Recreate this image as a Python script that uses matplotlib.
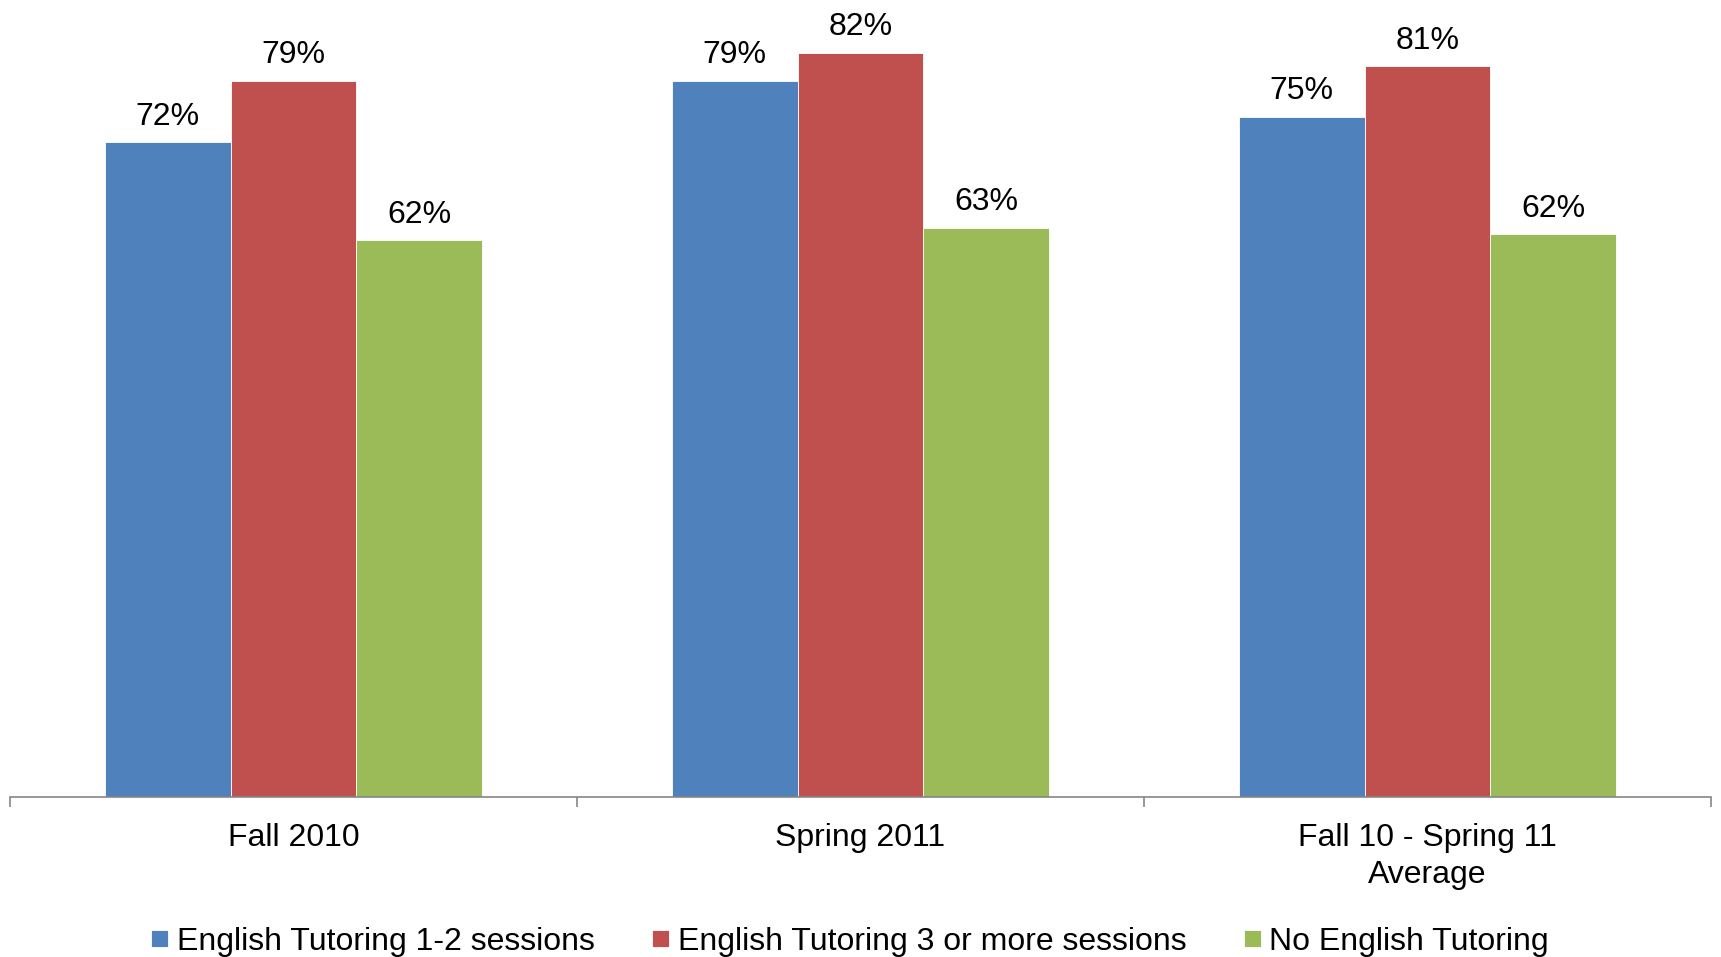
import matplotlib.pyplot as plt
import numpy as np

plt.rcParams['font.family'] = ['Liberation Sans', 'DejaVu Sans']

categories = ['Fall 2010', 'Spring 2011', 'Fall 10 - Spring 11\nAverage']
series_names = ['English Tutoring 1-2 sessions',
                'English Tutoring 3 or more sessions',
                'No English Tutoring']
# values (labels are rounded)
tutor_1_2 = [72.5, 79.3, 75.3]
tutor_3_plus = [79.3, 82.4, 80.9]
no_tutor = [61.6, 63.0, 62.3]

colors = ['#4F81BD', '#C0504D', '#9BBB59']


def main():
    W, H = 1721, 957
    fig = plt.figure(figsize=(W / 100, H / 100), dpi=100)
    ax = fig.add_axes([10 / W, 1 - 796.5 / H, 1701 / W, 796.5 / H])

    x = np.arange(len(categories))
    w = 0.222
    series = [tutor_1_2, tutor_3_plus, no_tutor]
    for i, vals in enumerate(series):
        pos = x + (i - 1) * w
        bars = ax.bar(pos, vals, width=w, color=colors[i], edgecolor='white',
                      linewidth=0.6, label=series_names[i], zorder=2)
        for b, v in zip(bars, vals):
            ax.annotate(f'{v:.0f}%', (b.get_x() + b.get_width() / 2, v),
                        xytext=(0, 12.5), textcoords='offset points',
                        ha='center', va='baseline', fontsize=23)

    ax.set_xlim(-0.5, 2.5)
    ax.set_ylim(0, 796.5 / 9.027)
    ax.set_yticks([])
    for s in ['top', 'right', 'left']:
        ax.spines[s].set_visible(False)
    ax.spines['bottom'].set_color('#868686')
    ax.spines['bottom'].set_linewidth(1.2)

    ax.set_xticks([-0.5, 0.5, 1.5, 2.5])
    ax.set_xticklabels([])
    ax.tick_params(axis='x', which='major', direction='out', length=7,
                   color='#868686', width=1.2)
    ax.set_xticks(x, minor=True)
    ax.set_xticklabels(categories, minor=True, fontsize=23, linespacing=1.3)
    ax.tick_params(axis='x', which='minor', length=0, pad=19)

    fig.legend(loc='center', bbox_to_anchor=(850 / W, 1 - 942 / H), ncol=3,
               frameon=False, fontsize=23, handlelength=0.54, handleheight=0.46,
               handletextpad=0.26, columnspacing=1.8)

    fig.savefig('out.png', dpi=100)


if __name__ == '__main__':
    main()
